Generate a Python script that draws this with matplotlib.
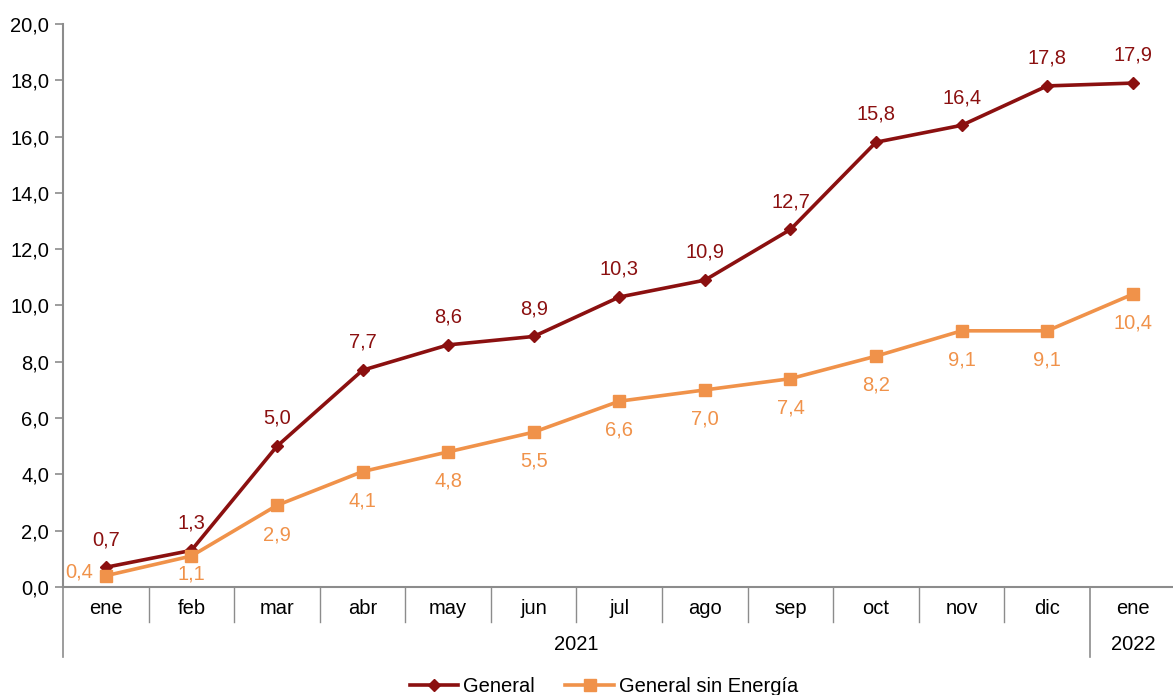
import matplotlib.pyplot as plt
import matplotlib.transforms as mtransforms

meses = ["ene", "feb", "mar", "abr", "may", "jun", "jul", "ago", "sep", "oct", "nov", "dic", "ene"]
general = [0.7, 1.3, 5.0, 7.7, 8.6, 8.9, 10.3, 10.9, 12.7, 15.8, 16.4, 17.8, 17.9]
sin_energia = [0.4, 1.1, 2.9, 4.1, 4.8, 5.5, 6.6, 7.0, 7.4, 8.2, 9.1, 9.1, 10.4]
yticks = [0, 2, 4, 6, 8, 10, 12, 14, 16, 18, 20]

rojo = "#8B1010"
naranja = "#F0924A"
gris = "#8C8C8C"

plt.rcParams["font.family"] = ["Liberation Sans", "DejaVu Sans"]
fs = 14.5

fig = plt.figure(figsize=(11.73, 6.95), dpi=100)
ax = fig.add_axes([0.0537, 0.1554, 0.9463, 0.8101])

x = list(range(len(meses)))
ax.plot(x, general, color=rojo, lw=2.6, marker="D", ms=6.5, label="General")
ax.plot(x, sin_energia, color=naranja, lw=2.6, marker="s", ms=8.5, label="General sin Energía")

def fmt(v):
    return f"{v:.1f}".replace(".", ",")

for i, v in enumerate(general):
    ax.annotate(fmt(v), (i, v), xytext=(0, 20), textcoords="offset points",
                ha="center", va="center", color=rojo, fontsize=fs)
for i, v in enumerate(sin_energia):
    if i == 0:
        off = (-19, 3)
    elif i == 1:
        off = (0, -13)
    else:
        off = (0, -21)
    ax.annotate(fmt(v), (i, v), xytext=off, textcoords="offset points",
                ha="center", va="center", color=naranja, fontsize=fs)

ax.set_xlim(-0.5, 12.47)
ax.set_ylim(0, 20)
ax.set_yticks(yticks)
ax.set_yticklabels([fmt(t) for t in yticks], fontsize=fs)
ax.tick_params(axis="y", direction="out", length=6, color=gris, width=1.2, pad=4)
ax.set_xticks([])

for s in ["top", "right"]:
    ax.spines[s].set_visible(False)
for s in ["left", "bottom"]:
    ax.spines[s].set_color(gris)
    ax.spines[s].set_linewidth(1.5)

trans = mtransforms.blended_transform_factory(ax.transData, ax.transAxes)
for i, m in enumerate(meses):
    ax.text(i, -0.039, m, transform=trans, ha="center", va="center", fontsize=fs)
for b in [i + 0.5 for i in range(11)]:
    ax.plot([b, b], [0, -0.062], transform=trans, color=gris, lw=1, clip_on=False)
for b in [-0.5, 11.5]:
    ax.plot([b, b], [0, -0.124], transform=trans, color=gris, lw=1.2, clip_on=False)

ax.text(5.5, -0.103, "2021", transform=trans, ha="center", va="center", fontsize=fs)
ax.text(12, -0.103, "2022", transform=trans, ha="center", va="center", fontsize=fs)

fig.legend(loc="lower center", bbox_to_anchor=(0.515, -0.028), ncol=2, frameon=False,
           fontsize=fs, handlelength=2.4, columnspacing=1.5, handletextpad=0.25)

plt.savefig("out.png", dpi=100)
